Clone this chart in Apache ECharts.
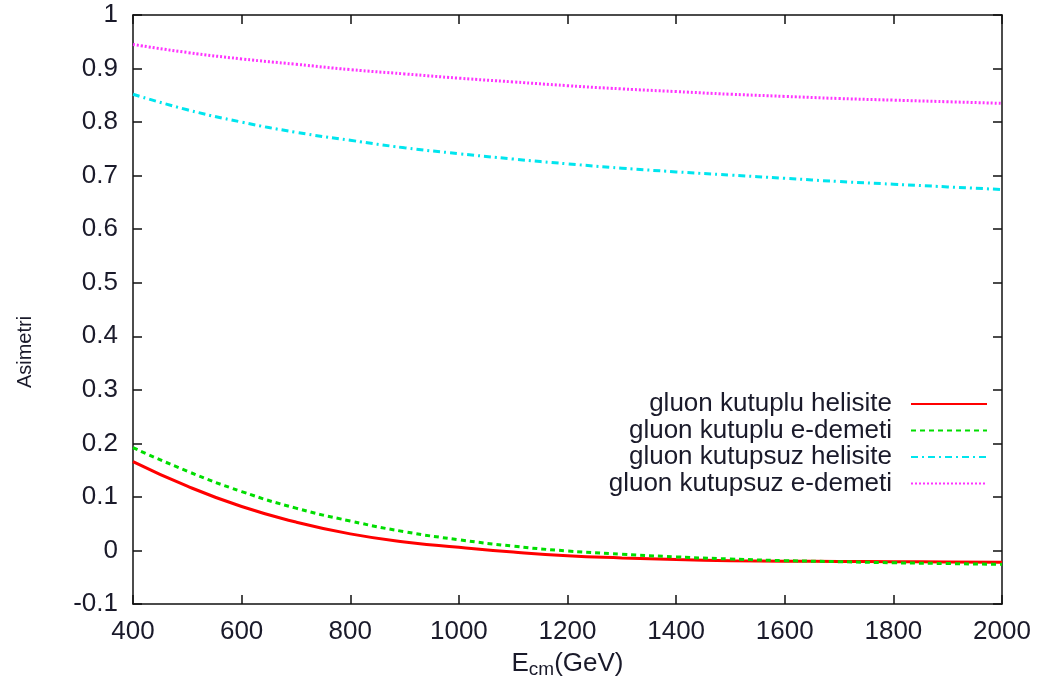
<!DOCTYPE html>
<html>
<head>
<meta charset="utf-8">
<script src="https://cdn.jsdelivr.net/npm/echarts@6/dist/echarts.min.js"></script>
<style>
  html, body { margin: 0; padding: 0; background: #fff; }
  #chart { width: 1046px; height: 693px; }
</style>
</head>
<body>
<div id="chart"></div>
<script>
// Centre-of-mass energy (GeV)
const energies = [400, 500, 600, 700, 800, 900, 1000, 1100, 1200, 1300, 1400, 1500, 1600, 1700, 1800, 1900, 2000];

// Asymmetry values for each configuration
const kutupluHelisite   = [0.166, 0.120, 0.082, 0.053, 0.031, 0.016, 0.006, -0.003, -0.010, -0.014, -0.017, -0.019, -0.020, -0.0205, -0.021, -0.0215, -0.022];
const kutupluEDemeti    = [0.192, 0.148, 0.110, 0.079, 0.055, 0.035, 0.020, 0.008, -0.001, -0.007, -0.012, -0.016, -0.019, -0.021, -0.023, -0.0245, -0.026];
const kutupsuzHelisite  = [0.852, 0.823, 0.800, 0.781, 0.766, 0.752, 0.741, 0.731, 0.722, 0.714, 0.707, 0.701, 0.695, 0.689, 0.684, 0.679, 0.674];
const kutupsuzEDemeti   = [0.945, 0.930, 0.918, 0.908, 0.898, 0.890, 0.882, 0.875, 0.868, 0.862, 0.857, 0.852, 0.848, 0.844, 0.841, 0.838, 0.835];

const seriesNames = [
  'gluon kutuplu helisite',
  'gluon kutuplu e-demeti',
  'gluon kutupsuz helisite',
  'gluon kutupsuz e-demeti'
];

const FONT = '"Liberation Sans", Arial, Helvetica, sans-serif';
const TEXT = '#1a1a2a';
const FS = 26;

function pairs(ys) { return energies.map((x, i) => [x, ys[i]]); }

const chart = echarts.init(document.getElementById('chart'));

const tickStyle = { show: true, inside: true, length: 9, lineStyle: { color: '#111', width: 1.5 } };
const lineAxis = { show: true, onZero: false, lineStyle: { color: '#111', width: 1.5 } };

chart.setOption({
  animation: false,
  backgroundColor: '#fff',
  grid: { left: 133, right: 44, top: 15, bottom: 89, containLabel: false },
  xAxis: [
    {
      type: 'value', min: 400, max: 2000, interval: 200,
      axisLine: lineAxis, axisTick: tickStyle, splitLine: { show: false },
      axisLabel: { margin: 15, fontSize: FS, fontFamily: FONT, color: TEXT, formatter: v => String(v) },
      name: '{e|E}{sub|cm}{e|(GeV)}',
      nameLocation: 'middle', nameGap: 44,
      nameTextStyle: {
        fontFamily: FONT, color: TEXT,
        rich: {
          e: { fontSize: FS, fontFamily: FONT, color: TEXT, lineHeight: 30, verticalAlign: 'middle' },
          sub: { fontSize: 19, fontFamily: FONT, color: TEXT, lineHeight: 30, verticalAlign: 'bottom', padding: [10, 0, 0, 0] }
        }
      }
    },
    {
      type: 'value', position: 'top', min: 400, max: 2000, interval: 200,
      axisLine: lineAxis, axisTick: tickStyle, axisLabel: { show: false }, splitLine: { show: false }
    }
  ],
  yAxis: [
    {
      type: 'value', min: -0.1, max: 1, interval: 0.1,
      axisLine: lineAxis, axisTick: tickStyle, splitLine: { show: false },
      axisLabel: {
        margin: 15, fontSize: FS, fontFamily: FONT, color: TEXT,
        formatter: v => String(Math.round(v * 10) / 10)
      }
    },
    {
      type: 'value', position: 'right', min: -0.1, max: 1, interval: 0.1,
      axisLine: lineAxis, axisTick: tickStyle, axisLabel: { show: false }, splitLine: { show: false }
    }
  ],
  legend: {
    orient: 'vertical',
    right: 53, top: 386,
    align: 'right',
    itemWidth: 76, itemHeight: 14, itemGap: 0.5,
    data: seriesNames,
    itemStyle: { opacity: 0 },
    textStyle: {
      fontSize: FS, fontFamily: FONT, color: TEXT,
      width: 300, align: 'right', lineHeight: 22, padding: [0, 14, 0, 0]
    }
  },
  graphic: [
    {
      type: 'text', x: 25, y: 352, rotation: Math.PI / 2,
      style: { text: 'Asimetri', fontSize: 20, fontFamily: FONT, fill: TEXT, textAlign: 'center', textVerticalAlign: 'middle' }
    }
  ],
  series: [
    {
      name: seriesNames[0], type: 'line', smooth: true, symbol: 'none',
      data: pairs(kutupluHelisite),
      lineStyle: { color: '#ff0000', width: 3, type: 'solid' },
      itemStyle: { color: '#ff0000' }
    },
    {
      name: seriesNames[1], type: 'line', smooth: true, symbol: 'none',
      data: pairs(kutupluEDemeti),
      lineStyle: { color: '#00dd00', width: 3, type: [5, 4] },
      itemStyle: { color: '#00dd00' }
    },
    {
      name: seriesNames[2], type: 'line', smooth: true, symbol: 'none',
      data: pairs(kutupsuzHelisite),
      lineStyle: { color: '#00e5ee', width: 3, type: [7, 4, 2, 4] },
      itemStyle: { color: '#00e5ee' }
    },
    {
      name: seriesNames[3], type: 'line', smooth: true, symbol: 'none',
      data: pairs(kutupsuzEDemeti),
      lineStyle: { color: '#ff33ff', width: 3, type: [2, 2] },
      itemStyle: { color: '#ff33ff' }
    }
  ]
});
</script>
</body>
</html>
